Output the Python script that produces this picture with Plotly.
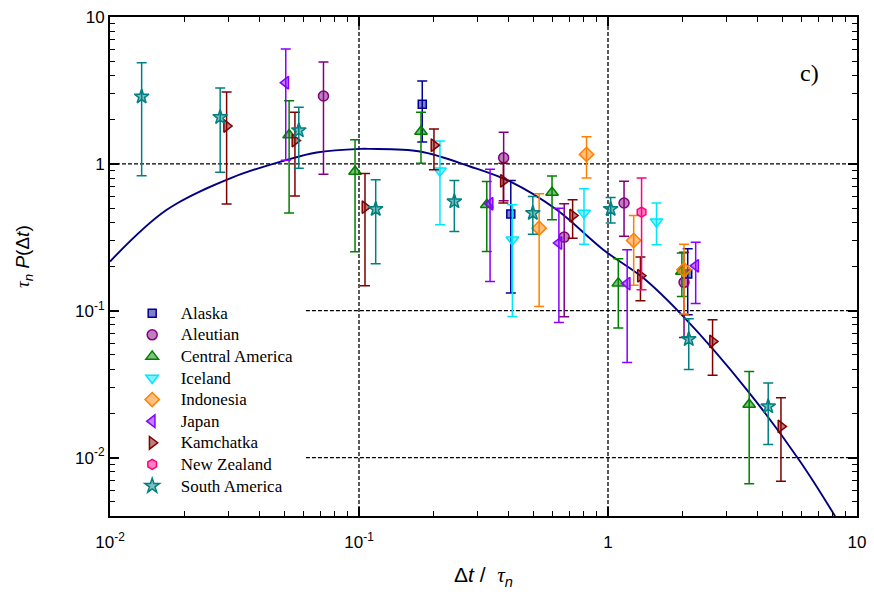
import plotly.graph_objects as go

# ---- data: normalised inter-event time distribution per region ----
# each series: x = Δt/τn, y = τn P(Δt), y_hi / y_lo = error bar ends
alaska_x = [0.1795, 0.407, 2.09]
alaska_y = [2.55, 0.455, 0.178]
alaska_hi = [3.67, 0.771, 0.264]
alaska_lo = [1.41, 0.132, 0.094]

aleutian_x = [0.072, 0.381, 0.667, 1.16, 2.02]
aleutian_y = [2.9, 1.10, 0.317, 0.541, 0.156]
aleutian_hi = [4.94, 1.64, 0.535, 0.76, 0.25]
aleutian_lo = [0.85, 0.56, 0.091, 0.321, 0.0658]

central_x = [0.0524, 0.0964, 0.1774, 0.326, 0.596, 1.10, 1.98, 3.69]
central_y = [1.57, 0.887, 1.66, 0.526, 0.638, 0.154, 0.185, 0.0230]
central_hi = [2.69, 1.46, 2.25, 0.759, 0.828, 0.226, 0.247, 0.0386]
central_lo = [0.462, 0.252, 1.01, 0.253, 0.416, 0.0762, 0.125, 0.00662]

iceland_x = [0.2114, 0.413, 0.801, 1.566]
iceland_y = [0.896, 0.304, 0.462, 0.404]
iceland_hi = [1.43, 0.526, 0.676, 0.541]
iceland_lo = [0.385, 0.0914, 0.284, 0.281]

indonesia_x = [0.529, 0.820, 1.268, 2.02]
indonesia_y = [0.365, 1.16, 0.301, 0.19]
indonesia_hi = [0.625, 1.53, 0.445, 0.284]
indonesia_lo = [0.107, 0.80, 0.149, 0.095]

japan_x = [0.0508, 0.336, 0.635, 1.194, 2.25]
japan_y = [3.57, 0.535, 0.289, 0.153, 0.202]
japan_hi = [6.05, 0.92, 0.499, 0.26, 0.292]
japan_lo = [1.06, 0.158, 0.083, 0.0444, 0.112]

kamchatka_x = [0.0294, 0.0553, 0.1057, 0.200, 0.380, 0.721, 1.35, 2.63, 4.95]
kamchatka_y = [1.81, 1.44, 0.507, 1.34, 0.766, 0.445, 0.173, 0.0618, 0.0163]
kamchatka_hi = [3.09, 2.25, 0.859, 1.73, 1.01, 0.569, 0.232, 0.0869, 0.0255]
kamchatka_lo = [0.532, 0.605, 0.148, 0.91, 0.541, 0.312, 0.117, 0.0363, 0.0069]

nz_x = [1.364]
nz_y = [0.469]
nz_hi = [0.80]
nz_lo = [0.139]

south_x = [0.0134, 0.0277, 0.0573, 0.1167, 0.2415, 0.499, 1.025, 2.11, 4.40]
south_y = [2.87, 2.08, 1.69, 0.492, 0.555, 0.462, 0.492, 0.064, 0.0223]
south_hi = [4.89, 3.29, 2.43, 0.778, 0.771, 0.600, 0.59, 0.0883, 0.0322]
south_lo = [0.83, 0.878, 0.935, 0.209, 0.346, 0.332, 0.395, 0.0397, 0.01225]

# universal scaling curve, sampled as (log10 x, log10 y)
curve_logx = [-2.0, -1.772, -1.505, -1.29, -1.17, -0.996, -0.956, -0.755, -0.554,
              -0.394, -0.206, -0.019, 0.142, 0.302, 0.557, 0.771, 0.912]
curve_logy = [-0.665, -0.313, -0.091, 0.027, 0.077, 0.102, 0.102, 0.084, -0.018,
              -0.120, -0.313, -0.585, -0.778, -1.039, -1.537, -2.025, -2.399]

series = [
    ("Alaska", alaska_x, alaska_y, alaska_hi, alaska_lo, "square", 8, (0, 0, 150)),
    ("Aleutian", aleutian_x, aleutian_y, aleutian_hi, aleutian_lo, "circle", 10, (128, 0, 128)),
    ("Central America", central_x, central_y, central_hi, central_lo, "triangle-up", 11, (0, 128, 0)),
    ("Iceland", iceland_x, iceland_y, iceland_hi, iceland_lo, "triangle-down", 11, (0, 230, 255)),
    ("Indonesia", indonesia_x, indonesia_y, indonesia_hi, indonesia_lo, "diamond", 11, (255, 128, 0)),
    ("Japan", japan_x, japan_y, japan_hi, japan_lo, "triangle-left", 11, (136, 0, 255)),
    ("Kamchatka", kamchatka_x, kamchatka_y, kamchatka_hi, kamchatka_lo, "triangle-right", 11, (128, 0, 0)),
    ("New Zealand", nz_x, nz_y, nz_hi, nz_lo, "hexagon", 10, (255, 0, 128)),
    ("South America", south_x, south_y, south_hi, south_lo, "star", 11, (0, 128, 128)),
]

X_RANGE = [-2, 1]
Y_RANGE = [-2.398, 1]
TICKS = [0.01, 0.1, 1, 10]
TICK_TEXT = ["10<sup>-2</sup>", "10<sup>-1</sup>", "1", "10"]

fig = go.Figure()

fig.add_trace(go.Scatter(
    x=[10 ** v for v in curve_logx], y=[10 ** v for v in curve_logy],
    mode="lines", line=dict(color="#000080", width=1.9, shape="spline"),
    showlegend=False, hoverinfo="skip",
))

for name, xs, ys, his, los, sym, size, rgb in series:
    col = "rgb(%d,%d,%d)" % rgb
    half = "rgba(%d,%d,%d,0.5)" % rgb
    fig.add_trace(go.Scatter(
        x=xs, y=ys, mode="markers",
        name='<span style="font-size:17px">\u00a0\u00a0%s</span>' % name,
        marker=dict(symbol=sym, size=size, color=half, line=dict(color=col, width=1.5)),
        error_y=dict(type="data", symmetric=False,
                     array=[h - y for h, y in zip(his, ys)],
                     arrayminus=[y - l for y, l in zip(ys, los)],
                     color=col, thickness=1.5, width=5),
    ))

# trace that carries the top / right tick axes (one invisible point)
fig.add_trace(go.Scatter(x=[1], y=[1], xaxis="x2", yaxis="y2", mode="markers",
                         marker=dict(opacity=0), showlegend=False, hoverinfo="skip"))

dash = dict(color="black", width=1.3, dash="4px,2px")
# horizontal reference lines (lower two stop short of the legend)
fig.add_shape(type="line", xref="paper", yref="y", x0=0, x1=1, y0=1, y1=1, line=dash, layer="below")
for yv in (0.1, 0.01):
    fig.add_shape(type="line", xref="x", yref="y", x0=0.0612, x1=10, y0=yv, y1=yv, line=dash, layer="below")
# vertical reference lines
for xv in (0.1, 1):
    fig.add_shape(type="line", xref="x", yref="paper", x0=xv, x1=xv, y0=0, y1=1, line=dash, layer="below")

fig.add_annotation(x=0.937, y=0.888, xref="paper", yref="paper", text="c)", showarrow=False,
                   xanchor="center", yanchor="middle",
                   font=dict(family="Liberation Serif", size=24, color="black"))

tau = '<span style="font-family:Liberation Serif"><i>τ</i></span>'

# y-axis title
fig.add_annotation(x=-0.115, y=0.519, xref="paper", yref="paper", textangle=-90,
                   text=tau + "<sub><i>n</i></sub> <i>P</i>(Δ<i>t</i>)", showarrow=False,
                   xanchor="center", yanchor="middle",
                   font=dict(family="Liberation Sans", size=19, color="black"))

tickfont = dict(family="Liberation Sans", size=17, color="black")

common = dict(
    ticks="inside", ticklen=9, tickwidth=1.5, tickcolor="black",
    minor=dict(ticks="inside", ticklen=5, tickwidth=1.2, tickcolor="black",
               dtick="D1", showgrid=False),
    showline=True, linecolor="black", linewidth=2,
    showgrid=False, zeroline=False, tickvals=TICKS, automargin=False,
)

fig.update_layout(
    xaxis=dict(type="log", range=X_RANGE, ticktext=TICK_TEXT, tickfont=tickfont,
               ticklabelstandoff=10,
               title=dict(text="Δ<i>t</i> /  " + tau + "<sub><i>n</i></sub>",
                          font=dict(family="Liberation Sans", size=21, color="black"), standoff=16),
               **common),
    yaxis=dict(type="log", range=Y_RANGE, ticktext=TICK_TEXT, tickfont=tickfont, **common),
    xaxis2=dict(type="log", range=X_RANGE, overlaying="x", side="top", anchor="y2",
                showticklabels=False, **common),
    yaxis2=dict(type="log", range=Y_RANGE, overlaying="y", side="right", anchor="x2",
                showticklabels=False, **common),
)

fig.update_layout(
    width=874, height=597,
    margin=dict(l=110, r=17, t=17, b=81),
    paper_bgcolor="white", plot_bgcolor="white",
    legend=dict(x=0.0297, y=0.438, xanchor="left", yanchor="top",
                bgcolor="rgba(0,0,0,0)", borderwidth=0, itemwidth=30,
                font=dict(family="Liberation Serif", size=14.3, color="black"),
                tracegroupgap=0),
    showlegend=True,
)

fig.write_html("out.html")
